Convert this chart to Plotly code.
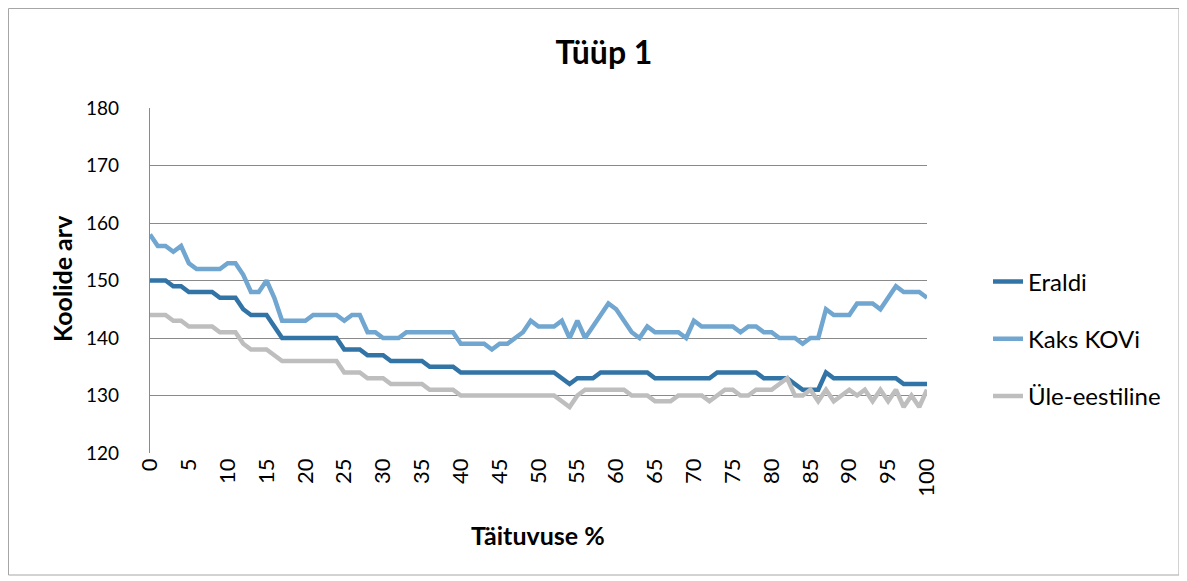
import plotly.graph_objects as go

x_vals = list(range(0, 101))

eraldi = ([150] * 3 + [149] * 2 + [148] * 4 + [147] * 3 + [145] + [144] * 3 + [142] +
          [140] * 8 + [138] * 3 + [137] * 3 + [136] * 5 + [135] * 4 + [134] * 13 +
          [133] + [132] + [133] * 3 + [134] * 7 + [133] * 8 + [134] * 6 + [133] * 4 +
          [132] + [131] * 3 + [134] + [133] * 9 + [132] * 4)

kaks_kovi = [158, 156, 156, 155, 156, 153, 152, 152, 152, 152,
             153, 153, 151, 148, 148, 150, 147, 143, 143, 143,
             143, 144, 144, 144, 144, 143, 144, 144, 141, 141,
             140, 140, 140, 141, 141, 141, 141, 141, 141, 141,
             139, 139, 139, 139, 138, 139, 139, 140, 141, 143,
             142, 142, 142, 143, 140, 143, 140, 142, 144, 146,
             145, 143, 141, 140, 142, 141, 141, 141, 141, 140,
             143, 142, 142, 142, 142, 142, 141, 142, 142, 141,
             141, 140, 140, 140, 139, 140, 140, 145, 144, 144,
             144, 146, 146, 146, 145, 147, 149, 148, 148, 148,
             147]

ule_eestiline = ([144] * 3 + [143] * 2 + [142] * 4 + [141] * 3 + [139] + [138] * 3 + [137] +
                 [136] * 8 + [134] * 3 + [133] * 3 + [132] * 5 + [131] * 4 + [130] * 13 +
                 [129, 128, 130] + [131] * 6 + [130] * 3 + [129] * 3 + [130] * 4 +
                 [129, 130, 131, 131, 130, 130, 131, 131, 131, 132, 133, 130, 130, 131,
                  129, 131, 129, 130, 131, 130, 131, 129, 131, 129, 131, 128, 130, 128, 131])

series_names = ["Eraldi", "Kaks KOVi", "Üle-eestiline"]
series_values = [eraldi, kaks_kovi, ule_eestiline]
series_colors = ["#3274A6", "#70A6D0", "#BEBEBE"]

x_ticks = list(range(0, 101, 5))
y_ticks = list(range(120, 181, 10))

FONT = "Lato, Carlito, Calibri, sans-serif"

# plot area in figure coordinates (page body adds an 8px offset)
L, T, W, H = 142, 100, 777, 345
FW, FH = 1187, 581


def px(xf):
    return (xf - L) / W


def py(yf):
    return (T + H - yf) / H


fig = go.Figure()
for i, (name, vals, col) in enumerate(zip(series_names, series_values, series_colors)):
    fig.add_trace(go.Scatter(
        x=x_vals, y=vals, mode="lines", name=name,
        line=dict(color=col, width=4.5),
        legendgroup=f"g{i}",
    ))

fig.update_layout(
    width=FW, height=FH,
    margin=dict(l=L, r=FW - L - W, t=T, b=FH - T - H),
    paper_bgcolor="white", plot_bgcolor="white",
    font=dict(family=FONT, size=18, color="black"),
    title=dict(text="<b>Tüüp 1</b>", x=596 / FW, xanchor="center",
               y=1 - 45 / FH, yanchor="middle",
               font=dict(family=FONT, size=32, color="black")),
    showlegend=True,
    legend=dict(x=px(1030 - 8 - 42), xanchor="left", y=py(339 - 8), yanchor="middle",
                traceorder="grouped", tracegroupgap=23,
                font=dict(family=FONT, size=24, color="black"),
                bgcolor="rgba(0,0,0,0)"),
    xaxis=dict(range=[0, 100], tickmode="array", tickvals=x_ticks,
               ticktext=[str(t) for t in x_ticks], tickangle=-90,
               showgrid=False, zeroline=False, showline=False,
               ticks="", tickfont=dict(family=FONT, size=22)),
    yaxis=dict(range=[120, 180], tickmode="array", tickvals=y_ticks,
               showgrid=True, gridcolor="#8A8A8A", gridwidth=1.3,
               zeroline=False, showline=True, linecolor="#8A8A8A", linewidth=1.3,
               ticks="outside", ticklen=26, tickcolor="rgba(0,0,0,0)",
               tickfont=dict(family=FONT, size=19)),
    annotations=[
        dict(text="<b>Koolide arv</b>", xref="paper", yref="paper",
             x=px(62 - 8), y=py(279 - 8), textangle=-90,
             showarrow=False, xanchor="center", yanchor="middle",
             font=dict(family=FONT, size=25, color="black")),
        dict(text="<b>Täituvuse %</b>", xref="paper", yref="paper",
             x=px(538 - 8), y=py(535 - 8),
             showarrow=False, xanchor="center", yanchor="middle",
             font=dict(family=FONT, size=25, color="black")),
    ],
    shapes=[
        dict(type="rect", xref="paper", yref="paper",
             x0=px(0.5), x1=px(1171), y0=py(567), y1=py(0.5),
             line=dict(color="#A6A6A6", width=1), fillcolor="rgba(0,0,0,0)",
             layer="below"),
    ],
)

fig.write_html("out.html")
